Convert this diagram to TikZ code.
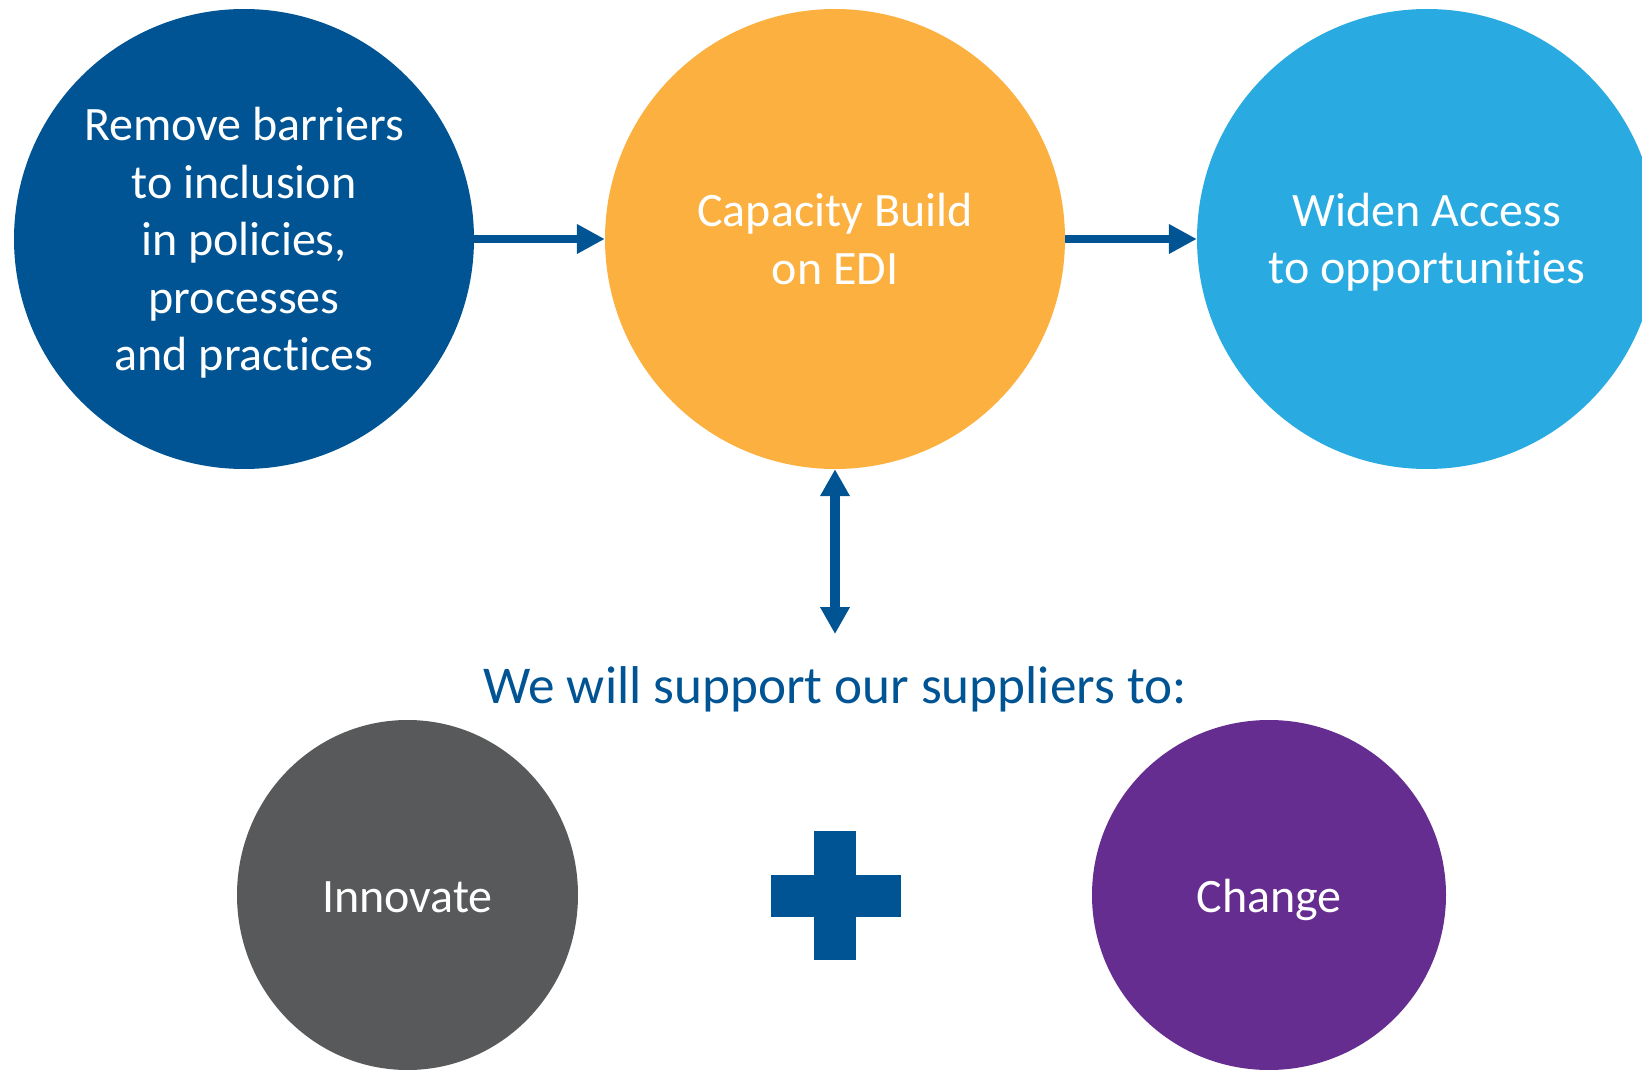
\documentclass[tikz,border=0pt]{standalone}
\usepackage{fontspec}
\setmainfont{Carlito}[Ligatures=NoCommon]
\usetikzlibrary{arrows.meta,shapes.geometric}
\definecolor{dblue}{RGB}{0,84,147}
\definecolor{orng}{RGB}{251,176,64}
\definecolor{lblue}{RGB}{41,170,225}
\definecolor{dgray}{RGB}{88,89,91}
\definecolor{purp}{RGB}{101,45,144}
\tikzset{
  lbl/.style={text=white,align=center,inner sep=0pt,
    font=\fontsize{48}{57.5}\selectfont},
  bigcirc/.style={circle,minimum size=460pt,inner sep=0pt},
  smallell/.style={ellipse,inner sep=0pt},
  arr/.style={draw=dblue,line width=8.5pt,-{Triangle[length=28pt,width=28pt]}},
  darr/.style={draw=dblue,line width=9.5pt,{Triangle[length=27pt,width=28pt]}-{Triangle[length=27pt,width=28pt]}},
}
\begin{document}
\begin{tikzpicture}[x=1pt,y=-1pt]
\useasboundingbox (0,0) rectangle (1642,1070);
\clip (0,0) rectangle (1642,1070);
\node[bigcirc,fill=dblue,label={[lbl,yshift=-4pt]center:Remove barriers\\to inclusion\\in policies,\\processes\\and practices}] (L) at (244,239) {};
\node[bigcirc,fill=orng,label={[lbl]center:Capacity Build\\on EDI}] (M) at (835,239) {};
\node[bigcirc,fill=lblue,label={[lbl,yshift=-3pt]center:Widen Access\\to opportunities}] (R) at (1427,239) {};
\draw[arr] (L.east) -- (M.west);
\draw[arr] (M.east) -- (R.west);
\coordinate (vb) at (835,634);
\draw[darr] (M.south) -- (vb);
\node[text=dblue,font=\fontsize{53.2}{60}\selectfont] (T) at (835,689) {We will support our suppliers to:};
\node[smallell,fill=dgray,minimum width=341pt,minimum height=350pt,label={[lbl,yshift=-2pt]center:Innovate}] (I) at (407.5,895) {};
\node[smallell,fill=purp,minimum width=354pt,minimum height=350pt,label={[lbl,yshift=-5pt]center:Change}] (C) at (1269,895) {};
\fill[dblue] (814,831) rectangle (856,960);
\fill[dblue] (771,875) rectangle (901,917);
\end{tikzpicture}
\end{document}
